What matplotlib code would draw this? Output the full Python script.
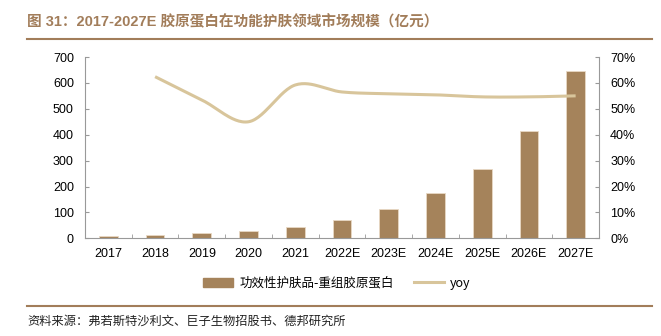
import numpy as np
import matplotlib
matplotlib.use("Agg")
import matplotlib.pyplot as plt
from matplotlib.lines import Line2D
from matplotlib.patches import Patch

plt.rcParams['font.family'] = ['Liberation Sans', 'Noto Sans CJK SC', 'DejaVu Sans']

years = ["2017", "2018", "2019", "2020", "2021", "2022E", "2023E", "2024E", "2025E", "2026E", "2027E"]
market = [7.8, 12.9, 19.5, 28.5, 45, 71.5, 112, 174, 268, 414, 647]
yoy_years = years[1:]
yoy = [62.4, 53.4, 45.0, 59.2, 56.5, 55.8, 55.4, 54.6, 54.6, 55.0]

bar_label = "功效性护肤品-重组胶原蛋白"
line_label = "yoy"
title = "图 31：2017-2027E 胶原蛋白在功能护肤领域市场规模（亿元）"
source = "资料来源：弗若斯特沙利文、巨子生物招股书、德邦研究所"

bar_color = "#A5835B"
line_color = "#D8C59B"
brown = "#A27D5A"
grey = "#999999"

W, H = 661, 336
fig = plt.figure(figsize=(W / 100, H / 100), dpi=100)
ax = fig.add_axes([85 / W, 1 - 238.3 / H, (599 - 85) / W, (238.3 - 57) / H])
ax2 = ax.twinx()

x = np.arange(len(years))
ax.bar(x, market, width=0.4, color=bar_color, edgecolor="#E8D9C4", linewidth=0.6, zorder=2)
ax.set_xlim(-0.5, len(years) - 0.5)
ax.set_ylim(0, 700)
ax.set_yticks(range(0, 701, 100))
ax.set_xticks(x)
ax.set_xticklabels(years, fontsize=9)
ax.set_xticks(np.arange(-0.5, len(years), 1.0), minor=True)
ax.tick_params(axis='x', which='major', length=0, pad=7)
ax.tick_params(axis='x', which='minor', length=3, direction='in', color=grey)
ax.tick_params(axis='y', length=3, direction='in', color=grey, labelsize=9, pad=8)

# smooth (Catmull-Rom) rendering of yoy line
xp = np.arange(1, len(years)).astype(float)
yp = np.array(yoy, dtype=float)
P = np.column_stack([xp, yp])
Pext = np.vstack([P[0] * 2 - P[1], P, P[-1] * 2 - P[-2]])
xs, ys = [], []
for i in range(1, len(Pext) - 2):
    p0, p1, p2, p3 = Pext[i - 1], Pext[i], Pext[i + 1], Pext[i + 2]
    t = np.linspace(0, 1, 30)[:, None]
    c = 0.5 * ((2 * p1) + (-p0 + p2) * t + (2 * p0 - 5 * p1 + 4 * p2 - p3) * t ** 2 + (-p0 + 3 * p1 - 3 * p2 + p3) * t ** 3)
    xs.extend(c[:, 0]); ys.extend(c[:, 1])
ax2.plot(xs, np.array(ys) / 100, color=line_color, linewidth=2.2, zorder=3, solid_capstyle='butt')
ax2.set_ylim(0, 0.7)
ax2.set_yticks(np.arange(0, 0.71, 0.1))
ax2.set_yticklabels([f"{int(round(v * 100))}%" for v in np.arange(0, 0.71, 0.1)])
ax2.tick_params(axis='y', length=3, direction='in', color=grey, labelsize=9, pad=8)

for a in (ax, ax2):
    a.spines['top'].set_visible(False)
    for s in ('left', 'right', 'bottom'):
        a.spines[s].set_color(grey)
        a.spines[s].set_linewidth(0.8)
ax.spines['right'].set_visible(False)
ax2.spines['left'].set_visible(False)
ax2.spines['bottom'].set_visible(False)

handles = [Patch(facecolor=bar_color, edgecolor=bar_color), Line2D([0], [0], color=line_color, lw=2.2)]
fig.legend(handles, [bar_label, line_label], loc='center', bbox_to_anchor=(337 / W, 1 - 283 / H),
           ncol=2, frameon=False, handlelength=2.4, handleheight=0.7, columnspacing=1.6,
           handletextpad=0.5, prop={'family': ['Noto Sans CJK SC', 'DejaVu Sans'], 'size': 9})

fig.text(27 / W, 1 - 22 / H, title, fontsize=10.5, fontweight='bold', color=brown, va='center', ha='left',
         family=['Liberation Sans', 'Noto Sans CJK SC'])
fig.add_artist(Line2D([27 / W, 652 / W], [1 - 39 / H, 1 - 39 / H], color=brown, lw=1.5))
fig.add_artist(Line2D([27 / W, 652 / W], [1 - 306 / H, 1 - 306 / H], color=brown, lw=1.5))
fig.text(27 / W, 1 - 321 / H, source, fontsize=8.8, color="#222222", va='center', ha='left',
         family=['Noto Sans CJK SC', 'DejaVu Sans'])

fig.savefig("out.png", dpi=100)
